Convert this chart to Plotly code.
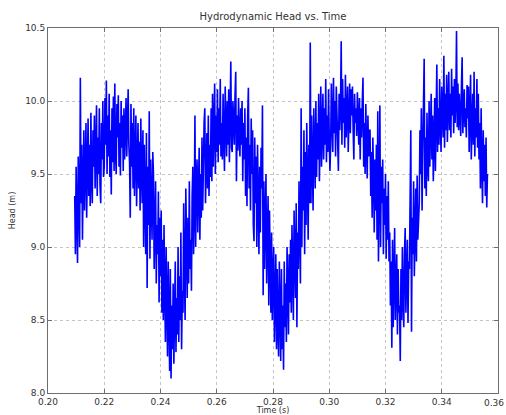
import numpy as np
import plotly.graph_objects as go

# Sampling of the head record
t_start = 0.2095   # s
t_step = 0.00025   # s

# Hydrodynamic head samples (m)
head = [
    9.35, 8.95, 9.55, 9.10, 8.89, 9.62, 9.20, 9.00, 10.16, 9.30, 9.70, 9.05, 9.45, 9.80,
    9.25, 9.60, 9.85, 9.20, 9.50, 9.88, 9.35, 9.70, 9.28, 9.92, 9.45, 9.30, 9.80, 9.55,
    9.90, 9.40, 9.65, 9.97, 9.35, 9.75, 9.50, 9.95, 9.42, 9.30, 9.85, 9.60, 10.00, 9.48,
    9.55, 10.02, 9.70, 10.14, 9.50, 9.90, 9.62, 10.05, 9.48, 9.80, 9.36, 9.95, 9.58, 10.03,
    9.52, 10.12, 9.65, 9.50, 9.98, 9.75, 10.04, 9.55, 9.85, 9.49, 10.00, 9.68, 9.90, 9.52,
    9.95, 9.60, 9.80, 10.02, 9.62, 9.88, 10.08, 9.70, 9.58, 9.20, 9.98, 9.55, 9.85, 9.40,
    9.95, 9.35, 9.75, 9.90, 9.28, 9.60, 9.85, 9.40, 9.72, 9.25, 9.88, 9.50, 9.30, 9.80,
    9.00, 9.70, 9.40, 8.95, 9.78, 8.72, 9.55, 9.15, 9.93, 8.92, 9.60, 9.25, 9.05, 9.65,
    9.50, 8.85, 9.30, 9.45, 8.75, 9.15, 8.95, 9.38, 8.62, 9.20, 8.80, 9.25, 8.55, 9.05,
    8.50, 9.15, 8.70, 8.35, 9.00, 8.55, 8.25, 8.90, 8.40, 8.15, 8.85, 8.10, 8.60, 8.30,
    8.75, 8.20, 8.55, 8.90, 8.28, 8.65, 8.40, 9.00, 8.35, 8.80, 8.50, 9.10, 8.30, 8.70,
    8.55, 9.30, 8.80, 8.50, 9.40, 8.95, 8.65, 9.20, 8.75, 9.45, 8.85, 9.05, 8.70, 9.35,
    9.55, 8.95, 9.25, 9.90, 9.00, 9.45, 9.60, 9.10, 9.35, 9.68, 9.05, 9.50, 9.20, 9.75,
    9.25, 9.65, 9.85, 9.95, 9.30, 9.55, 9.78, 9.40, 9.90, 9.35, 9.70, 9.48, 9.95, 9.45,
    10.05, 9.55, 9.80, 10.12, 9.50, 9.90, 9.65, 10.08, 9.58, 9.95, 9.70, 10.15, 9.62, 9.85,
    9.60, 10.05, 9.75, 9.52, 10.10, 9.85, 9.62, 10.00, 9.70, 10.08, 9.58, 9.92, 10.27, 9.68,
    9.65, 10.00, 9.80, 9.70, 10.04, 10.20, 9.45, 9.90, 9.66, 10.02, 9.75, 9.62, 9.95, 9.70,
    10.00, 9.45, 9.85, 9.60, 9.95, 9.35, 9.75, 9.28, 9.90, 10.09, 9.40, 9.70, 9.25, 9.88,
    9.50, 9.80, 9.15, 9.04, 9.75, 9.30, 9.62, 9.00, 9.70, 9.20, 8.95, 9.55, 9.10, 9.68,
    9.40, 9.97, 8.67, 9.45, 8.85, 9.20, 9.50, 8.75, 9.05, 9.35, 8.60, 9.25, 8.90, 8.55,
    9.10, 8.50, 8.80, 9.00, 8.35, 8.65, 8.95, 8.30, 8.85, 8.45, 8.25, 8.90, 8.55, 8.22,
    8.85, 8.30, 8.60, 8.16, 8.90, 8.45, 8.75, 8.35, 9.00, 8.50, 8.40, 8.95, 8.62, 9.05,
    8.55, 9.15, 8.80, 8.50, 9.25, 8.95, 8.65, 9.30, 8.45, 9.10, 8.85, 9.45, 9.00, 8.75,
    9.95, 9.00, 9.55, 9.25, 9.80, 8.95, 9.65, 9.15, 9.85, 9.40, 9.05, 9.70, 9.30, 10.40,
    9.30, 9.90, 9.55, 9.25, 9.95, 9.70, 9.40, 10.00, 9.48, 9.85, 9.60, 10.05, 9.45, 9.78,
    10.10, 9.55, 9.85, 10.05, 9.60, 9.95, 9.70, 10.15, 9.58, 9.90, 9.65, 10.08, 9.75, 9.52,
    9.70, 10.12, 9.85, 9.65, 10.16, 9.78, 10.00, 9.62, 10.10, 9.88, 9.68, 9.52, 10.05, 9.80,
    9.95, 10.41, 9.70, 10.15, 9.85, 10.02, 9.68, 10.18, 9.75, 9.95, 10.10, 9.65, 9.90, 10.12,
    9.78, 10.08, 9.90, 10.10, 9.80, 9.60, 10.05, 9.85, 9.95, 9.76, 10.06, 9.88, 9.70, 10.02,
    9.60, 9.95, 9.75, 10.00, 10.16, 9.55, 9.85, 9.50, 9.98, 9.68, 9.47, 9.90, 9.62, 9.80,
    9.80, 9.35, 9.65, 9.20, 9.75, 9.50, 9.10, 9.60, 9.25, 9.70, 9.05, 9.93, 8.90, 9.40,
    9.97, 9.00, 9.55, 9.30, 9.60, 8.95, 9.40, 9.15, 9.50, 8.92, 9.35, 9.05, 9.45, 8.90,
    9.10, 8.60, 8.90, 8.31, 9.05, 8.45, 8.80, 9.13, 8.50, 8.70, 8.95, 8.40, 8.85, 8.55,
    8.60, 8.22, 8.85, 8.50, 9.00, 8.65, 8.45, 8.95, 9.13, 8.55, 8.80, 9.05, 8.48, 8.90,
    8.85, 9.30, 9.80, 8.42, 9.20, 8.95, 9.45, 8.80, 9.10, 9.40, 8.90, 9.49, 9.05, 9.25,
    9.30, 9.80, 9.50, 9.95, 9.25, 9.65, 9.88, 10.29, 9.40, 9.75, 9.35, 9.92, 9.55, 9.45,
    10.00, 9.55, 9.80, 10.05, 9.60, 9.90, 9.45, 9.75, 10.02, 9.52, 9.85, 10.25, 9.65, 9.95,
    9.70, 10.15, 9.85, 9.65, 10.10, 9.95, 9.75, 10.31, 9.68, 10.05, 9.80, 10.18, 9.72, 9.98,
    10.20, 9.80, 10.05, 9.75, 10.22, 9.90, 10.10, 9.78, 10.15, 9.85, 10.00, 10.48, 9.82, 10.12,
    9.80, 10.05, 9.90, 9.76, 10.10, 10.30, 9.78, 9.98, 10.08, 9.82, 9.95, 9.75, 10.11, 9.88,
    10.10, 9.65, 9.90, 10.18, 9.60, 9.85, 10.05, 9.70, 10.20, 9.62, 9.95, 9.75, 10.15, 9.68,
    10.05, 9.60, 9.85, 9.40, 9.95, 9.55, 9.30, 9.80, 9.45, 9.70, 9.35, 9.75, 9.27, 9.50,
]

x_ticks = [0.20, 0.22, 0.24, 0.26, 0.28, 0.30, 0.32, 0.34, 0.36]
y_ticks = [8.0, 8.5, 9.0, 9.5, 10.0, 10.5]

time = t_start + t_step * np.arange(len(head))

FONT = "DejaVu Sans"
FRAME = "#6e6e6e"
GRID = "#c4c4c4"
TEXT = "#333333"

fig = go.Figure(
    go.Scatter(
        x=time,
        y=head,
        mode="lines",
        line=dict(color="#0000ff", width=1.6),
        hoverinfo="x+y",
    )
)

axis_common = dict(
    showline=True,
    linecolor=FRAME,
    linewidth=1,
    mirror="ticks",
    ticks="inside",
    ticklen=4,
    tickcolor=FRAME,
    showgrid=True,
    gridcolor=GRID,
    griddash="3px,3px",
    gridwidth=1,
    zeroline=False,
    tickfont=dict(family=FONT, size=9, color=TEXT),
    automargin=False,
)

fig.update_xaxes(
    range=[0.20, 0.36],
    tickvals=x_ticks,
    ticktext=[f"{v:.2f}" for v in x_ticks],
    title=dict(text="Time (s)", font=dict(family=FONT, size=8, color=TEXT), standoff=2),
    **axis_common,
)
fig.update_yaxes(
    range=[8.0, 10.5],
    tickvals=y_ticks,
    ticktext=[f"{v:.1f}" for v in y_ticks],
    title=dict(text="Head (m)", font=dict(family=FONT, size=8, color=TEXT), standoff=8),
    **axis_common,
)

# The last x tick label sits at the right edge of the figure; plotly drops it,
# so draw it explicitly, nudged left just enough to stay on the canvas.
last_tick = x_ticks[-1]
fig.add_annotation(
    x=last_tick,
    xref="x",
    y=0,
    yref="paper",
    yshift=-3,
    xshift=-4,
    text=f"{last_tick:.2f}",
    showarrow=False,
    xanchor="center",
    yanchor="top",
    font=dict(family=FONT, size=9, color=TEXT),
)

fig.update_layout(
    width=506,
    height=415,
    margin=dict(l=48, r=8, t=28, b=22),
    paper_bgcolor="white",
    plot_bgcolor="white",
    showlegend=False,
    title=dict(
        text="Hydrodynamic Head vs. Time",
        x=(48 + 498) / 2 / 506,
        xanchor="center",
        y=1 - 16 / 415,
        yanchor="middle",
        font=dict(family=FONT, size=10, color=TEXT),
    ),
)

fig.write_html("out.html")
